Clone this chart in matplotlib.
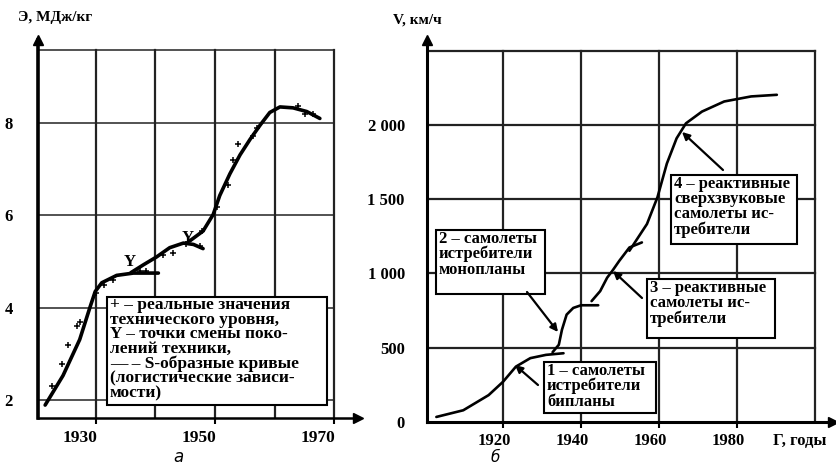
import numpy as np
import matplotlib
matplotlib.use("Agg")
import matplotlib.pyplot as plt
from matplotlib.patches import Rectangle
from matplotlib.transforms import ScaledTranslation

plt.rcParams['font.family'] = ['Liberation Serif', 'DejaVu Serif']
plt.rcParams['font.weight'] = 'bold'

# ---- panel a: energy (MJ/kg) by year, three S-curves + real values
e_seg1_year = [1921.5, 1924.5, 1927.3, 1929.0, 1929.9, 1931.0, 1933.5, 1936.3, 1940.5]
e_seg1_val = [1.89, 2.53, 3.31, 4.00, 4.35, 4.54, 4.70, 4.75, 4.75]
e_seg2_year = [1935.9, 1938.0, 1940.2, 1942.4, 1944.7, 1946.4, 1948.0]
e_seg2_val = [4.76, 4.93, 5.10, 5.30, 5.40, 5.37, 5.28]
e_seg3_year = [1945.8, 1948.0, 1949.7, 1950.8, 1952.5, 1954.2, 1955.9, 1957.6,
               1959.2, 1960.9, 1963.1, 1965.4, 1967.6]
e_seg3_val = [5.45, 5.66, 6.02, 6.43, 6.90, 7.31, 7.65, 7.96, 8.23, 8.35, 8.33, 8.25, 8.10]
e_pts_year = [1922.6, 1924.3, 1925.4, 1926.8, 1927.3, 1930.1, 1931.3, 1932.9, 1937.4,
              1938.5, 1941.3, 1943.0, 1945.2, 1947.5, 1947.8, 1950.3, 1952.2, 1953.0,
              1953.9, 1956.4, 1957.0, 1964.0, 1965.1, 1966.5]
e_pts_val = [2.30, 2.77, 3.19, 3.60, 3.69, 4.32, 4.50, 4.60, 4.79, 4.79, 5.15, 5.19,
             5.37, 5.33, 5.66, 6.19, 6.66, 7.21, 7.55, 7.72, 7.89, 8.37, 8.20, 8.20]
e_xticks = [1930, 1950, 1970]
e_yticks = [2, 4, 6, 8]
e_change_year = [1935.7, 1945.4]
e_change_val = [4.98, 5.5]

# ---- panel б: fighter speed (km/h) by year, four generations
v_seg1_year = [1902.9, 1909.8, 1916.3, 1920.0, 1923.3, 1927.0, 1931.0, 1935.5]
v_seg1_val = [34, 79, 181, 271, 373, 430, 452, 463]
v_seg2_year = [1932.7, 1934.3, 1935.1, 1936.3, 1938.0, 1940.0, 1944.4]
v_seg2_val = [470, 520, 621, 723, 768, 786, 786]
v_seg3_year = [1942.7, 1944.9, 1946.7, 1948.0, 1949.8, 1952.4, 1955.6]
v_seg3_val = [814, 881, 972, 1017, 1085, 1175, 1209]
v_seg4_year = [1952.4, 1956.9, 1959.6, 1962.0, 1964.5, 1966.9, 1971.0, 1976.7,
               1983.6, 1990.2]
v_seg4_val = [1153, 1333, 1514, 1740, 1910, 2011, 2090, 2158, 2192, 2203]
v_xticks = [1920, 1940, 1960, 1980]
v_yticks = [0, 500, 1000, 1500, 2000]
v_ylabels = ['0', '500', '1 000', '1 500', '2 000']

W, H = 836, 466
fig = plt.figure(figsize=(W / 100, H / 100), dpi=100)


def px(ax, x, y):
    # image pixel -> data coords of ax
    return ax.transData.inverted().transform((x, H - y))


def shift_xlabels(ax, dx):
    for lab in ax.get_xticklabels():
        lab.set_transform(lab.get_transform() + ScaledTranslation(dx / 100, 0, fig.dpi_scale_trans))


def axis_arrows(ax):
    ax.plot(1, 0, '>k', ms=7, transform=ax.transAxes, clip_on=False)
    ax.plot(0, 1, '^k', ms=7, transform=ax.transAxes, clip_on=False)


# ================= panel a
ax1 = fig.add_axes([38 / W, 1 - 418 / H, 320 / W, 378 / H])
ax1.set_xlim(1920.3, 1974)
ax1.set_ylim(1.61, 9.8)
top1 = 9.58
for yv in e_yticks + [top1]:
    ax1.plot([1920.3, 1970], [yv, yv], color='#444444', lw=1.3, zorder=1)
for xv in [1930, 1940, 1950, 1960, 1970]:
    ax1.plot([xv, xv], [1.61, top1], color='#222222', lw=1.6, zorder=1)

for xs, ys in [(e_seg1_year, e_seg1_val), (e_seg2_year, e_seg2_val), (e_seg3_year, e_seg3_val)]:
    ax1.plot(xs, ys, color='black', lw=2.6, solid_capstyle='round', zorder=4)
ax1.plot(e_pts_year, e_pts_val, '+', color='black', ms=4, mew=1.1, zorder=5)
for xv, yv in zip(e_change_year, e_change_val):
    ax1.text(xv, yv, 'Y', fontsize=12, ha='center', va='center', zorder=6)

x0, y0 = px(ax1, 107, 405)
x1, y1 = px(ax1, 327, 297)
ax1.add_patch(Rectangle((x0, y0), x1 - x0, y1 - y0, facecolor='white',
                        edgecolor='black', lw=1.5, zorder=7))
tx, ty = px(ax1, 110, 297)
ax1.text(tx, ty, '+ – реальные значения\nтехнического уровня,\nY – точки смены поко-\n'
         'лений техники,\n— – S-образные кривые\n(логистические зависи-\nмости)',
         fontsize=12.5, ha='left', va='top', linespacing=0.89, zorder=8)

ax1.set_xticks(e_xticks)
ax1.set_yticks(e_yticks)
ax1.tick_params(axis='x', length=4, width=1.5, direction='out', pad=5, labelsize=12.5)
ax1.tick_params(axis='y', length=0, pad=18, labelsize=12)
shift_xlabels(ax1, -16)
for s in ['top', 'right']:
    ax1.spines[s].set_visible(False)
ax1.spines['left'].set_linewidth(2.6)
ax1.spines['bottom'].set_linewidth(1.8)
axis_arrows(ax1)
fig.text(18 / W, 1 - 18 / H, 'Э, МДж/кг', fontsize=11, ha='left', va='center')
fig.text(178 / W, 1 - 457 / H, 'а', fontsize=12, ha='center', va='center',
         family='DejaVu Sans', style='italic', weight='normal')

# ================= panel б
ax2 = fig.add_axes([427 / W, 1 - 422 / H, 406 / W, 382 / H])
ax2.set_xlim(1900.5, 2004.6)
ax2.set_ylim(0, 2572)
top2 = 2500
for yv in v_yticks[1:] + [top2]:
    ax2.plot([1900.5, 2000], [yv, yv], color='#222222', lw=1.6, zorder=1)
for xv in v_xticks + [2000]:
    ax2.plot([xv, xv], [0, top2], color='#222222', lw=1.6, zorder=1)

for xs, ys in [(v_seg1_year, v_seg1_val), (v_seg2_year, v_seg2_val),
               (v_seg3_year, v_seg3_val), (v_seg4_year, v_seg4_val)]:
    ax2.plot(xs, ys, color='black', lw=1.9, solid_capstyle='round', zorder=4)

boxes = [
    ((671, 175, 797, 244), '4 – реактивные\nсверхзвуковые\nсамолеты ис-\nтребители'),
    ((436, 230, 545, 294), '2 – самолеты\nистребители\nмонопланы'),
    ((647, 279, 775, 338), '3 – реактивные\nсамолеты ис-\nтребители'),
    ((544, 362, 656, 413), '1 – самолеты\nистребители\nбипланы'),
]
for (bx0, by0, bx1, by1), txt in boxes:
    a0, b0 = px(ax2, bx0, by1)
    a1, b1 = px(ax2, bx1, by0)
    ax2.add_patch(Rectangle((a0, b0), a1 - a0, b1 - b0, facecolor='white',
                            edgecolor='black', lw=1.5, zorder=7))
    tx, ty = px(ax2, bx0 + 3, by0 + 1)
    ax2.text(tx, ty, txt, fontsize=12, ha='left', va='top', linespacing=0.92, zorder=8)

arrows = [((723, 170), (682, 132)), ((527, 292), (558, 332)),
          ((642, 298), (613, 271)), ((538, 385), (515, 365))]
for tail, head in arrows:
    ax2.annotate('', xy=px(ax2, *head), xytext=px(ax2, *tail),
                 arrowprops=dict(arrowstyle='-|>', color='black', lw=1.6,
                                 mutation_scale=11, shrinkA=0, shrinkB=0), zorder=9)

ax2.set_xticks(v_xticks)
ax2.set_yticks(v_yticks)
ax2.set_yticklabels(v_ylabels)
ax2.tick_params(axis='x', length=4, width=1.5, direction='out', pad=4, labelsize=12)
ax2.tick_params(axis='y', length=0, pad=16, labelsize=12)
shift_xlabels(ax2, -9)
for s in ['top', 'right']:
    ax2.spines[s].set_visible(False)
ax2.spines['left'].set_linewidth(2.2)
ax2.spines['bottom'].set_linewidth(2.2)
axis_arrows(ax2)
fig.text(393 / W, 1 - 20 / H, 'V, км/ч', fontsize=11, ha='left', va='center')
fig.text(773 / W, 1 - 441 / H, 'Г, годы', fontsize=12, ha='left', va='center')
fig.text(495 / W, 1 - 458 / H, 'б', fontsize=11, ha='center', va='center',
         family='DejaVu Sans', style='italic', weight='normal')

fig.savefig('out.png', dpi=100)
